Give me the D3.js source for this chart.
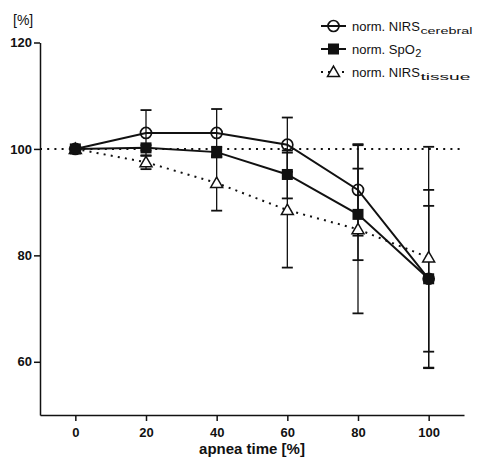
<!DOCTYPE html>
<html>
<head>
<meta charset="utf-8">
<script src="https://cdn.jsdelivr.net/npm/d3@7"></script>
<style>
  body { margin: 0; background: #fff; }
  svg { font-family: "Liberation Sans", Arial, sans-serif; }
</style>
</head>
<body>
<svg width="480" height="459"></svg>
<script>
// apnea time steps
const times = [0, 20, 40, 60, 80, 100];

// series means and SDs
const cerebral = [100, 103.0, 103.0, 100.8, 92.3, 75.6];
const cerebralSd = [0, 4.3, 4.5, 5.1, 8.6, 13.7];
const spo2 = [100, 100.2, 99.4, 95.2, 87.7, 75.6];
const spo2Sd = [0, 0.5, 1.0, 4.5, 8.6, 16.7];
const tissue = [100, 97.5, 93.6, 88.5, 84.9, 79.6];
const tissueSd = [0, 1.3, 5.2, 10.8, 15.8, 20.8];

const xTicks = [0, 20, 40, 60, 80, 100];
const yTicks = [60, 80, 100, 120];

const svg = d3.select("svg");

const x = d3.scaleLinear().domain([-10, 110]).range([40, 464]);
const y = d3.scaleLinear().domain([50, 120]).range([415, 42.5]);

// axes
const xAxis = svg.append("g")
    .attr("transform", `translate(0,${y(50)})`)
    .call(d3.axisBottom(x).tickValues(xTicks).tickSize(6).tickSizeOuter(0).tickPadding(7));
const yAxis = svg.append("g")
    .attr("transform", `translate(${x(-10)},0)`)
    .call(d3.axisLeft(y).tickValues(yTicks).tickSize(6).tickSizeOuter(0).tickPadding(2));

[xAxis, yAxis].forEach(a => {
    a.selectAll("path, line").attr("stroke", "#111").attr("stroke-width", 1.5);
    a.selectAll("text").attr("font-size", 13).attr("font-weight", "bold").attr("fill", "#111")
        .attr("font-family", "Liberation Sans, Arial, sans-serif");
});

svg.append("text")
    .attr("x", 252).attr("y", 454)
    .attr("text-anchor", "middle")
    .attr("font-size", 15).attr("font-weight", "bold").attr("fill", "#111")
    .text("apnea time [%]");

svg.append("text")
    .attr("x", 13).attr("y", 25)
    .attr("font-size", 14).attr("fill", "#111")
    .text("[%]");

// reference line at 100 %
svg.append("line")
    .attr("x1", x(-10)).attr("x2", x(110))
    .attr("y1", y(100)).attr("y2", y(100))
    .attr("stroke", "#111").attr("stroke-width", 2)
    .attr("stroke-dasharray", "2 5.2");

const series = [
    { name: "tissue", values: tissue, sd: tissueSd, dash: "2 5.2", symbol: "triangle" },
    { name: "spo2", values: spo2, sd: spo2Sd, dash: null, symbol: "square" },
    { name: "cerebral", values: cerebral, sd: cerebralSd, dash: null, symbol: "circle" }
];

// error bars
series.forEach(s => {
    const g = svg.append("g").attr("stroke", "#111");
    times.forEach((t, i) => {
        if (!s.sd[i]) return;
        const lo = s.values[i] - s.sd[i], hi = s.values[i] + s.sd[i];
        g.append("line")
            .attr("x1", x(t)).attr("x2", x(t))
            .attr("y1", y(lo)).attr("y2", y(hi))
            .attr("stroke-width", 1.3);
        [lo, hi].forEach(v => {
            g.append("line")
                .attr("x1", x(t) - 5.5).attr("x2", x(t) + 5.5)
                .attr("y1", y(v)).attr("y2", y(v))
                .attr("stroke-width", 1.8);
        });
    });
});

const line = d3.line().x((d, i) => x(times[i])).y(d => y(d));

series.forEach(s => {
    svg.append("path")
        .datum(s.values)
        .attr("d", line)
        .attr("fill", "none")
        .attr("stroke", "#111")
        .attr("stroke-width", 2)
        .attr("stroke-dasharray", s.dash);
});

function drawMarker(g, kind, cx, cy) {
    if (kind === "circle") {
        g.append("circle").attr("cx", cx).attr("cy", cy).attr("r", 5.5)
            .attr("fill", "none").attr("stroke", "#111").attr("stroke-width", 1.7);
    } else if (kind === "square") {
        g.append("rect").attr("x", cx - 5.5).attr("y", cy - 5.5)
            .attr("width", 11).attr("height", 11).attr("fill", "#111");
    } else {
        g.append("path")
            .attr("d", d3.symbol(d3.symbolTriangle, 62)())
            .attr("transform", `translate(${cx},${cy + 1})`)
            .attr("fill", "#fff").attr("stroke", "#111").attr("stroke-width", 1.5);
    }
}

series.forEach(s => {
    const g = svg.append("g");
    s.values.forEach((v, i) => drawMarker(g, s.symbol, x(times[i]), y(v)));
});

// legend
const legend = [
    { label: "norm. NIRS", sub: "cerebral", subLen: 52, symbol: "circle", dash: null, cy: 26 },
    { label: "norm. SpO", sub: "2", subLen: null, symbol: "square", dash: null, cy: 49 },
    { label: "norm. NIRS", sub: "tissue", subLen: 50, symbol: "triangle", dash: "2 5", cy: 72 }
];

legend.forEach(l => {
    const g = svg.append("g");
    g.append("line")
        .attr("x1", 321).attr("x2", 346)
        .attr("y1", l.cy).attr("y2", l.cy)
        .attr("stroke", "#111").attr("stroke-width", 2)
        .attr("stroke-dasharray", l.dash);
    drawMarker(g, l.symbol, 333.5, l.cy);
    const t = g.append("text")
        .attr("x", 352).attr("y", l.cy + 4.5)
        .attr("font-size", 13).attr("fill", "#111")
        .text(l.label);
    const w = t.node().getComputedTextLength();
    const s = g.append("text")
        .attr("x", 352 + w + 0.5).attr("y", l.cy + 8)
        .attr("font-size", l.subLen ? 9 : 11).attr("fill", "#111")
        .text(l.sub);
    if (l.subLen) s.attr("textLength", l.subLen).attr("lengthAdjust", "spacingAndGlyphs");
});
</script>
</body>
</html>
